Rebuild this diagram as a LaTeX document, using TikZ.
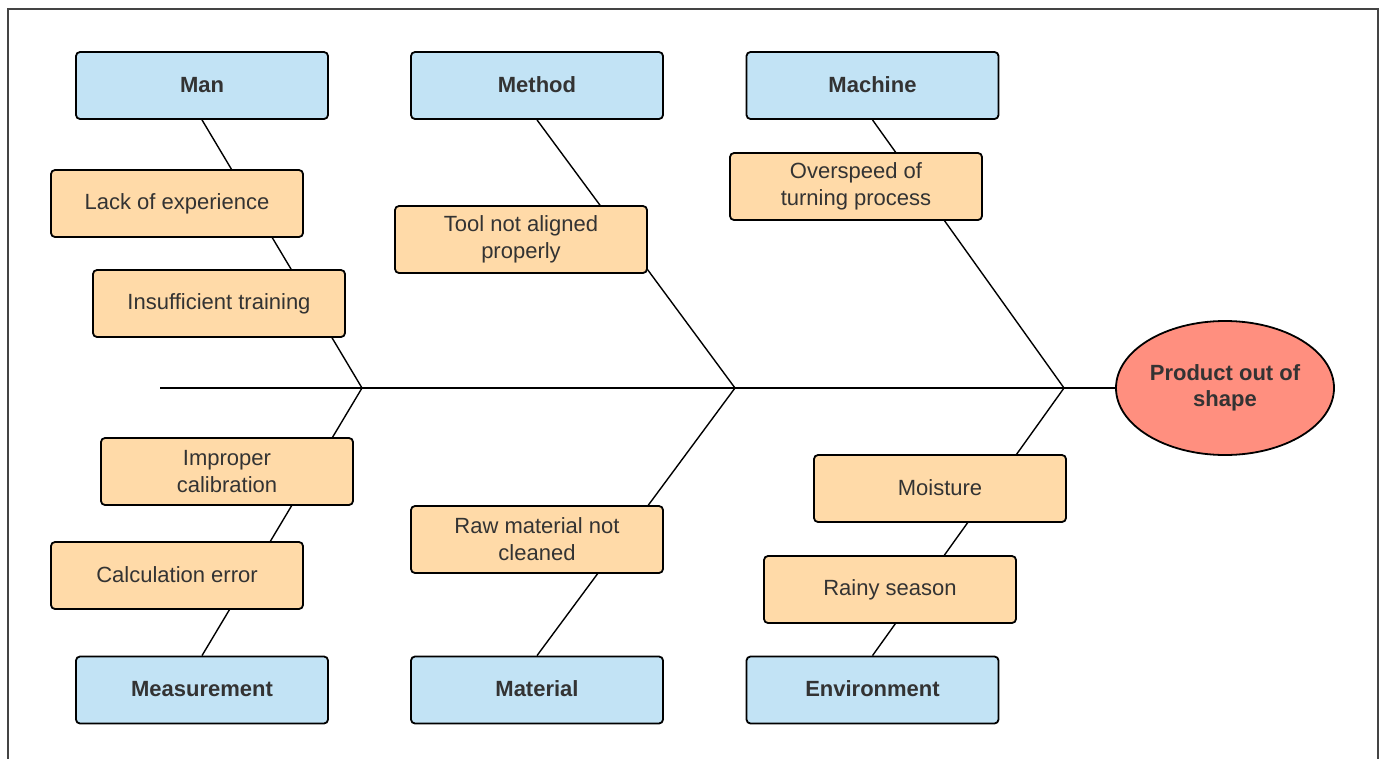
\documentclass[tikz,border=0pt]{standalone}
\usepackage{fontspec}
\setmainfont{Liberation Sans}
\usetikzlibrary{shapes.geometric,backgrounds}
\definecolor{catblue}{HTML}{C2E3F5}
\definecolor{causeor}{HTML}{FFDAA8}
\definecolor{effred}{HTML}{FF8F7F}
\definecolor{txt}{HTML}{333333}
\definecolor{frame}{HTML}{444444}
\tikzset{
  boxbase/.style={draw=black, line width=1.8pt, rounded corners=4pt, minimum width=252pt, minimum height=67pt, inner sep=0pt, align=center, text=txt, font=\fontsize{22}{27}\selectfont},
  cat/.style={boxbase, fill=catblue, font=\fontsize{22}{27}\selectfont\bfseries},
  cause/.style={boxbase, fill=causeor},
  effect/.style={ellipse, draw=black, line width=1.8pt, fill=effred, minimum width=218pt, minimum height=134pt, inner sep=0pt, align=center, text=txt, font=\fontsize{22}{26}\selectfont\bfseries},
  bone/.style={draw=black, line width=1.4pt}
}
\begin{document}
\begin{tikzpicture}[x=1pt,y=-1pt]
\useasboundingbox (0,0) rectangle (1382,758);
\draw[frame, line width=2pt] (8,760) -- (8,9) -- (1378,9) -- (1378,760);
% categories
\node[cat] (man) at (202,85.5) {\raisebox{2pt}{Man}};
\node[cat] (method) at (537,85.5) {\raisebox{2pt}{Method}};
\node[cat] (machine) at (872.5,85.5) {\raisebox{2pt}{Machine}};
\node[cat] (meas) at (202,690) {\raisebox{2pt}{Measurement}};
\node[cat] (material) at (537,690) {\raisebox{2pt}{Material}};
\node[cat] (env) at (872.5,690) {\raisebox{2pt}{Environment}};
% causes
\node[cause] (lack) at (177,203.5) {\raisebox{2pt}{Lack of experience}};
\node[cause] (train) at (219,303.5) {\raisebox{2pt}{Insufficient training}};
\node[cause] (tool) at (521,239.5) {Tool not aligned\\properly};
\node[cause] (over) at (856,186.5) {Overspeed of\\turning process};
\node[cause] (calib) at (227,471.5) {Improper\\calibration};
\node[cause] (calc) at (177,575.5) {\raisebox{2pt}{Calculation error}};
\node[cause] (raw) at (537,539.5) {Raw material not\\cleaned};
\node[cause] (moist) at (940,488.5) {\raisebox{2pt}{Moisture}};
\node[cause] (rain) at (890,589.5) {\raisebox{2pt}{Rainy season}};
% effect
\node[effect] (eff) at (1225,388) {Product out of\\shape};
% junctions
\coordinate (tail) at (160,388);
\coordinate (j1) at (362,388);
\coordinate (j2) at (735,388);
\coordinate (j3) at (1064,388);
\begin{scope}[on background layer]
\draw[bone] (tail) -- (eff.west);
\draw[bone] (man.south) -- (j1);
\draw[bone] (meas.north) -- (j1);
\draw[bone] (method.south) -- (j2);
\draw[bone] (material.north) -- (j2);
\draw[bone] (machine.south) -- (j3);
\draw[bone] (env.north) -- (j3);
\end{scope}
\end{tikzpicture}
\end{document}
